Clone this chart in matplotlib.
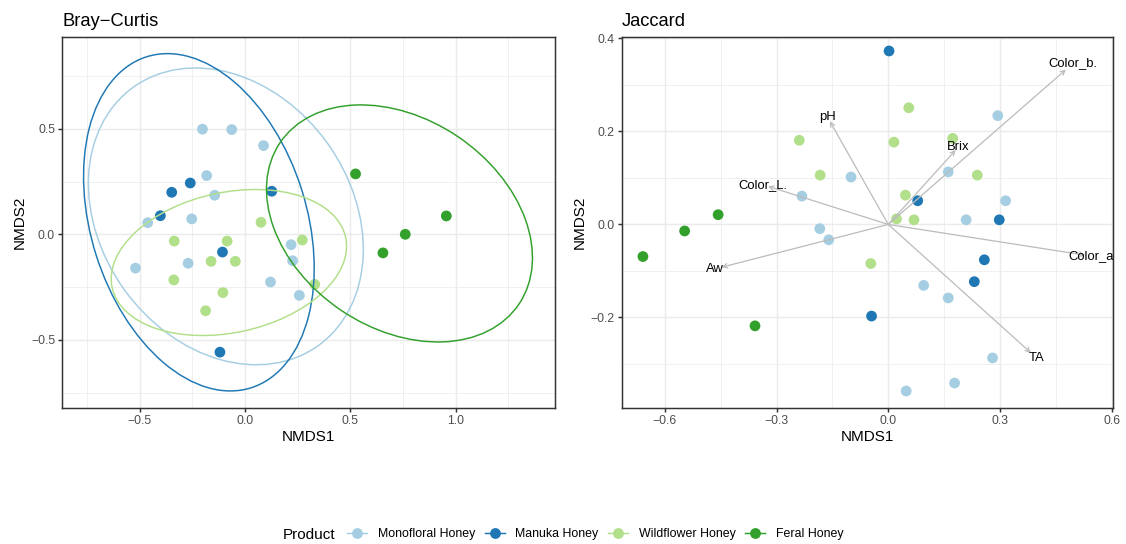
import numpy as np
import matplotlib
matplotlib.use("Agg")
import matplotlib.pyplot as plt
from matplotlib.patches import Ellipse
from matplotlib.lines import Line2D
from matplotlib.ticker import FuncFormatter

plt.rcParams['font.family'] = ['Liberation Sans', 'DejaVu Sans']

products = ["Monofloral Honey", "Manuka Honey", "Wildflower Honey", "Feral Honey"]
colors = ["#A6CEE3", "#1F78B4", "#B2DF8A", "#33A02C"]

# ---- Bray-Curtis NMDS scores ----
bc_mono_x = [-0.202, -0.063, 0.088, -0.182, -0.144, -0.253, -0.462, -0.520, -0.270, 0.219, 0.226, 0.121, 0.258]
bc_mono_y = [0.498, 0.496, 0.420, 0.278, 0.185, 0.073, 0.055, -0.160, -0.137, -0.049, -0.125, -0.226, -0.289]
bc_manuka_x = [-0.348, -0.260, -0.402, 0.127, -0.107, -0.119]
bc_manuka_y = [0.199, 0.243, 0.088, 0.204, -0.084, -0.558]
bc_wild_x = [0.076, -0.336, -0.085, 0.272, -0.161, -0.046, -0.338, 0.331, -0.105, -0.187]
bc_wild_y = [0.057, -0.032, -0.032, -0.027, -0.128, -0.128, -0.216, -0.237, -0.276, -0.362]
bc_feral_x = [0.525, 0.956, 0.761, 0.655]
bc_feral_y = [0.286, 0.087, 0.000, -0.088]

# 95% ellipses per product: centre x, centre y, semi-major, semi-minor, angle (deg)
ell_center_x = [-0.091, -0.219, -0.0765, 0.7335]
ell_center_y = [0.085, 0.057, -0.1335, 0.0515]
ell_semi_major = [0.753, 0.822, 0.567, 0.684]
ell_semi_minor = [0.594, 0.512, 0.332, 0.496]
ell_angle = [-54.2, -72.4, 12.1, -33.9]

# ---- Jaccard NMDS scores ----
jc_mono_x = [0.294, 0.161, 0.315, 0.209, -0.100, -0.232, -0.184, -0.160, 0.095, 0.161, 0.280, 0.178, 0.048]
jc_mono_y = [0.234, 0.113, 0.051, 0.010, 0.102, 0.061, -0.009, -0.033, -0.131, -0.158, -0.287, -0.341, -0.358]
jc_manuka_x = [0.002, 0.079, 0.298, 0.258, 0.231, -0.045]
jc_manuka_y = [0.373, 0.051, 0.010, -0.076, -0.123, -0.197]
jc_wild_x = [0.055, -0.239, 0.015, 0.173, 0.239, -0.183, 0.046, 0.022, 0.069, -0.047]
jc_wild_y = [0.251, 0.181, 0.177, 0.185, 0.106, 0.106, 0.063, 0.012, 0.010, -0.084]
jc_feral_x = [-0.457, -0.547, -0.659, -0.358]
jc_feral_y = [0.021, -0.014, -0.069, -0.218]

# Fitted environmental vectors
env_vars = ["Color_b.", "pH", "Brix", "Color_L.", "Aw", "Color_a.", "TA"]
env_x = [0.477, -0.157, 0.181, -0.323, -0.448, 0.529, 0.383]
env_y = [0.333, 0.222, 0.160, 0.082, -0.092, -0.066, -0.276]

bc_x = [bc_mono_x, bc_manuka_x, bc_wild_x, bc_feral_x]
bc_y = [bc_mono_y, bc_manuka_y, bc_wild_y, bc_feral_y]
jc_x = [jc_mono_x, jc_manuka_x, jc_wild_x, jc_feral_x]
jc_y = [jc_mono_y, jc_manuka_y, jc_wild_y, jc_feral_y]

W, H = 1126, 544
fig = plt.figure(figsize=(W / 100, H / 100), dpi=100)
fig.patch.set_facecolor('white')

ax1 = fig.add_axes([62 / W, 1 - 407.7 / H, 493 / W, 370.2 / H])
ax2 = fig.add_axes([621.7 / W, 1 - 407.7 / H, 491.5 / W, 370.2 / H])

GRID = '#EBEBEB'
DARK = '#333333'

tick_fmt = FuncFormatter(lambda v, pos: f"{v:.1f}".replace('-', '\u2212'))


def style(ax):
    ax.set_facecolor('white')
    for s in ax.spines.values():
        s.set_color(DARK)
        s.set_linewidth(1.07)
        s.set_zorder(10)
    ax.tick_params(axis='both', which='major', length=2.75, width=1.07, color=DARK,
                   labelsize=8.8, labelcolor='#4D4D4D', pad=2.2)
    ax.tick_params(which='minor', length=0)
    ax.grid(which='major', color=GRID, lw=1.07)
    ax.grid(which='minor', color=GRID, lw=0.53)
    ax.set_axisbelow(True)
    ax.xaxis.set_major_formatter(tick_fmt)
    ax.yaxis.set_major_formatter(tick_fmt)
    ax.set_xlabel('NMDS1', fontsize=11, labelpad=2.75)
    ax.set_ylabel('NMDS2', fontsize=11, labelpad=2.75)


# ---- Bray-Curtis panel ----
for xs, ys, c in zip(bc_x, bc_y, colors):
    ax1.scatter(xs, ys, s=60, color=c, edgecolors='none', zorder=3)
for i, c in enumerate(colors):
    e = Ellipse((ell_center_x[i], ell_center_y[i]), 2 * ell_semi_major[i], 2 * ell_semi_minor[i],
                angle=ell_angle[i], fill=False, edgecolor=c, lw=1.07, zorder=4)
    ax1.add_patch(e)
ax1.set_xlim(-0.869, 1.472)
ax1.set_ylim(-0.821, 0.932)
ax1.set_xticks([-0.5, 0.0, 0.5, 1.0])
ax1.set_xticks([-0.75, -0.25, 0.25, 0.75, 1.25], minor=True)
ax1.set_yticks([-0.5, 0.0, 0.5])
ax1.set_yticks([-0.75, -0.25, 0.25, 0.75], minor=True)
style(ax1)
ax1.set_title('Bray\u2212Curtis', loc='left', fontsize=13.2, pad=8.5)

# ---- Jaccard panel ----
for xs, ys, c in zip(jc_x, jc_y, colors):
    ax2.scatter(xs, ys, s=60, color=c, edgecolors='none', zorder=3)
for name, vx, vy in zip(env_vars, env_x, env_y):
    ax2.annotate('', xy=(vx, vy), xytext=(0, 0),
                 arrowprops=dict(arrowstyle='->', color='#BBBBBB', lw=0.9,
                                 mutation_scale=8, shrinkA=0, shrinkB=0),
                 zorder=5)
    ax2.text(vx * 1.04, vy * 1.04, name, fontsize=9.4, ha='center', va='center',
             color='black', zorder=6, clip_on=True)
ax2.set_xlim(-0.716, 0.604)
ax2.set_ylim(-0.394, 0.402)
ax2.set_xticks([-0.6, -0.3, 0.0, 0.3, 0.6])
ax2.set_xticks([-0.45, -0.15, 0.15, 0.45], minor=True)
ax2.set_yticks([-0.2, 0.0, 0.2, 0.4])
ax2.set_yticks([-0.3, -0.1, 0.1, 0.3], minor=True)
style(ax2)
ax2.set_title('Jaccard', loc='left', fontsize=13.2, pad=8.5)

# ---- Legend ----
handles = [Line2D([], [], color=c, lw=1.07, marker='o', markersize=7.8,
                  markeredgewidth=0) for c in colors]
fig.text(283 / W, 1 - 535 / H, 'Product', fontsize=11, ha='left', va='center')
fig.legend(handles, products, loc='center left', bbox_to_anchor=(347 / W, 1 - 534 / H),
           ncol=4, frameon=False, fontsize=8.9, handlelength=1.65, handletextpad=0.82,
           columnspacing=0.78, borderpad=0, borderaxespad=0)

fig.savefig('out.png', dpi=100, facecolor='white')
